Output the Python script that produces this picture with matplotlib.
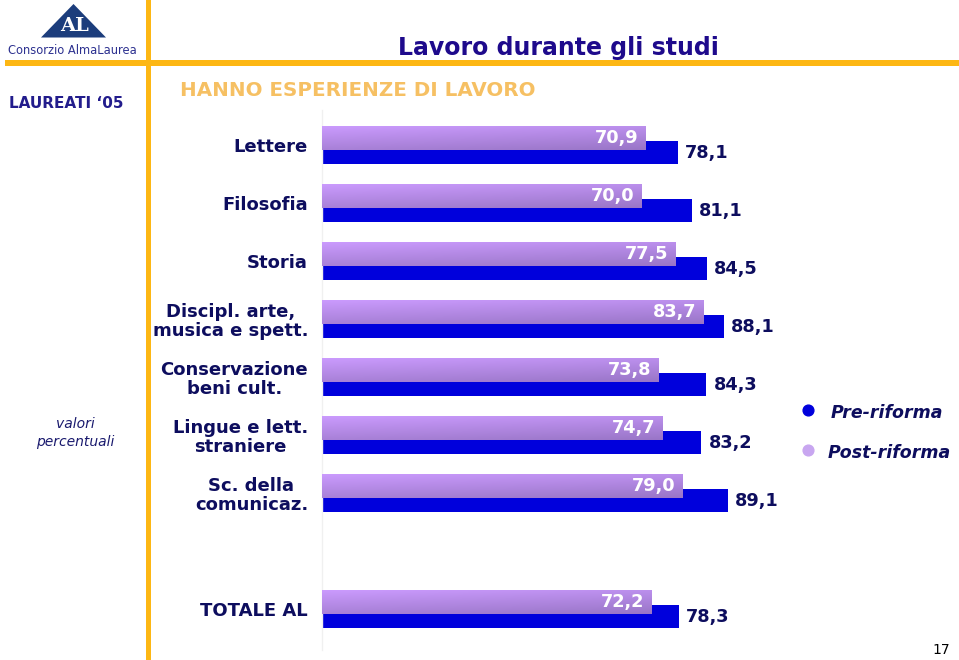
import numpy as np
import matplotlib
matplotlib.use("Agg")
import matplotlib.pyplot as plt
from matplotlib.patches import Polygon, Rectangle

# ---------------- data ----------------
categories = ["Lettere", "Filosofia", "Storia", "Discipl. arte,\nmusica e spett.",
              "Conservazione\nbeni cult.", "Lingue e lett.\nstraniere",
              "Sc. della\ncomunicaz.", "TOTALE AL"]
pre_riforma = [78.1, 81.1, 84.5, 88.1, 84.3, 83.2, 89.1, 78.3]
post_riforma = [70.9, 70.0, 77.5, 83.7, 73.8, 74.7, 79.0, 72.2]
series_names = ["Pre-riforma", "Post-riforma"]

# ---------------- style ----------------
NAVY = "#0d0d5e"
BLUE = "#0000dc"
LAV = "#b48ce6"
ORANGE = "#fdb714"
W, H = 959, 660

fig = plt.figure(figsize=(W / 100, H / 100), dpi=100)
fig.patch.set_facecolor("white")

# overlay axes in pixel coordinates for slide decorations
ov = fig.add_axes([0, 0, 1, 1])
ov.set_xlim(0, W)
ov.set_ylim(H, 0)
ov.axis("off")
ov.patch.set_visible(False)

# orange lines
ov.add_patch(Rectangle((5, 60), W - 5, 6, color=ORANGE, lw=0, zorder=1))
ov.add_patch(Rectangle((145.5, 0), 5.5, H, color=ORANGE, lw=0, zorder=1))

# logo
ov.add_patch(Polygon([(41, 37.5), (73.5, 4), (106, 37.5)], closed=True,
                     color="#1c3d7c", lw=0, zorder=2))
ov.text(74, 26, "AL", color="white", fontsize=14, fontweight="bold",
        family="DejaVu Serif", ha="center", va="center", zorder=3)
ov.text(72, 51, "Consorzio AlmaLaurea", color="#2d3190", fontsize=8.3,
        ha="center", va="center")
ov.text(66, 104, "LAUREATI \u201805", color="#221c8c", fontsize=11,
        fontweight="bold", ha="center", va="center")

# titles
ov.text(558, 48, "Lavoro durante gli studi", color="#1e0a8c", fontsize=17,
        fontweight="bold", ha="center", va="center")
ov.text(180, 91, "HANNO ESPERIENZE DI LAVORO", color="#f6c063", fontsize=14.3,
        fontweight="bold", ha="left", va="center")

# side note
ov.text(75, 424, "valori", color="#1a1a6e", fontsize=10, style="italic",
        ha="center", va="center")
ov.text(75, 442, "percentuali", color="#1a1a6e", fontsize=10, style="italic",
        ha="center", va="center")

# legend
ov.scatter([808], [410], s=60, color=BLUE, zorder=3)
ov.scatter([808], [450], s=60, color="#c8a6f0", zorder=3)
ov.text(831, 413, series_names[0], color=NAVY, fontsize=12.5, fontweight="bold",
        style="italic", ha="left", va="center")
ov.text(828, 453, series_names[1], color=NAVY, fontsize=12.5, fontweight="bold",
        style="italic", ha="left", va="center")

# page number
ov.text(941, 650, "17", color="black", fontsize=10, ha="center", va="center")

# ---------------- bar chart ----------------
px_per_unit = 4.56
ax = fig.add_axes([322 / W, 1 - 650 / H, (W - 322) / W, 540 / H])
ax.patch.set_visible(False)

n = len(categories)
pos = np.r_[np.arange(n - 1), n].astype(float)

blue_bars = ax.barh(pos + 0.13, pre_riforma, height=0.40, color=BLUE, zorder=2)
lav_bars = ax.barh(pos - 0.125, post_riforma, height=0.415, color=LAV, zorder=3)

# gradient fill on the lavender bars
light = np.array([0.80, 0.61, 1.00])
dark = np.array([0.60, 0.46, 0.78])
gy, gx = np.mgrid[0:1:40j, 0:1:200j]
t = 0.7 * gy + 0.3 * gx
grad = light[None, None, :] * (1 - t[..., None]) + dark[None, None, :] * t[..., None]
for b in lav_bars:
    x0, y0 = b.get_x(), b.get_y()
    w, h = b.get_width(), b.get_height()
    im = ax.imshow(grad, extent=[x0, x0 + w, y0 + h, y0], aspect="auto",
                   zorder=3.5, interpolation="bilinear")
    im.set_clip_path(b)

xmax = (W - 322) / px_per_unit
ax.set_xlim(0, xmax)
ax.set_ylim(pos[0] + (650 - 145) / 58, -(145 - 110) / 58)

# value labels
off = 7 / px_per_unit
for p, v in zip(pos, pre_riforma):
    ax.text(v + off, p + 0.13, f"{v:.1f}".replace(".", ","), color=NAVY,
            fontsize=12.8, fontweight="bold", ha="left", va="center", zorder=5)
for p, v in zip(pos, post_riforma):
    ax.text(v - off, p - 0.125, f"{v:.1f}".replace(".", ","), color="white",
            fontsize=12.8, fontweight="bold", ha="right", va="center", zorder=5)

# category labels
ax.set_yticks(pos)
ax.set_yticklabels(categories, fontsize=13, fontweight="bold", color=NAVY)
for lab in ax.get_yticklabels():
    lab.set_multialignment("center")
    lab.set_linespacing(1.05)
ax.tick_params(axis="y", length=0, pad=10)
ax.set_xticks([])

for s in ["top", "right", "bottom"]:
    ax.spines[s].set_visible(False)
ax.spines["left"].set_color("#f0f0f0")
ax.spines["left"].set_linewidth(1)

fig.savefig("out.png", dpi=100, facecolor="white")
